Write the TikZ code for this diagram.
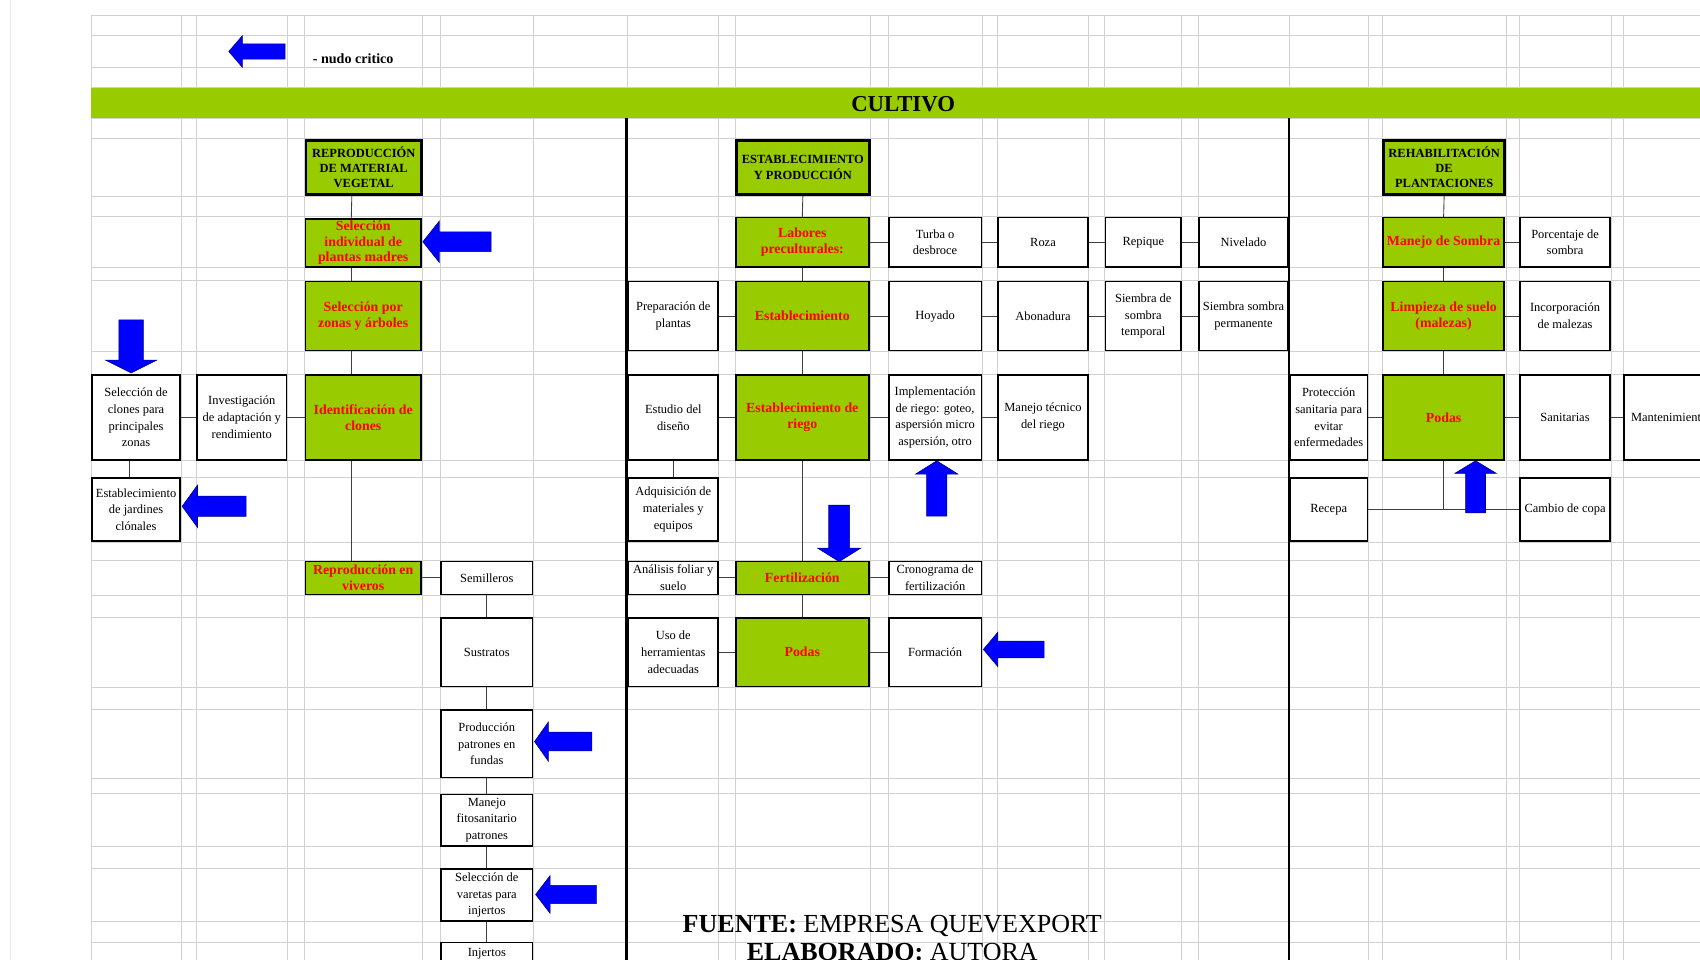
\documentclass[tikz,border=0pt]{standalone}
\usepackage{fontspec}
\setmainfont{Liberation Serif}

\definecolor{verde}{HTML}{99CC00}
\newcommand{\cajafont}{\fontsize{11.5}{15.5}\selectfont}
\newcommand{\clavefont}{\fontsize{12.8}{14.5}\selectfont\bfseries}
\newcommand{\titfont}{\fontsize{11.5}{14}\selectfont\bfseries}

\tikzset{
  caja/.style={draw, line width=1.5pt, fill=white, align=center, inner sep=1pt, font=\cajafont},
  clave/.style={caja, fill=verde, text=red, font=\clavefont},
  titulo/.style={caja, fill=verde, line width=2.6pt, font=\titfont},
  tam/.style 2 args={minimum width=#1, minimum height=#2},
  enlace/.style={draw=black!75, line width=0.8pt},
  grilla/.style={draw=black!18, line width=0.7pt},
  separa/.style={draw=black, line width=2.2pt},
  flecha/.style={fill=blue, draw=blue!45!black, line width=0.5pt},
  pics/nudo/.style 2 args={code={
    \filldraw[flecha] (0,0) -- (0.24*#1,0.5*#2) -- (0.24*#1,0.24*#2) -- (#1,0.24*#2)
      -- (#1,-0.24*#2) -- (0.24*#1,-0.24*#2) -- (0.24*#1,-0.5*#2) -- cycle;
  }}
}

\begin{document}
\begin{tikzpicture}[x=1pt, y=-1pt]
    \useasboundingbox (0,0) rectangle (1568,885);
    \clip (0,0) rectangle (1568,885);
    \fill[white] (0,0) rectangle (1568,885);

    % hoja de calculo
    \foreach \gy in {14,33,62,81,109,128,181,200,247,259,324,345,425,440,500,517,549,569,634,654,718,732,781,801,850,869}
      \draw[grilla] (84,\gy) -- (1568,\gy);
    \foreach \gx in {84,167,181,265,281,390,406,492,579,663,678,803,819,906,920,1004,1019,1090,1105,1189,1262,1275,1389,1401,1486,1497}
      \draw[grilla] (\gx,14) -- (\gx,885);
    \draw[grilla, draw=black!8] (10,0) -- (10,885);

    \fill[verde] (84,81) rectangle (1568,109);
    \node[font=\fontsize{21}{24}\selectfont\bfseries] (cultivo) at (833,96) {CULTIVO};
    \draw[separa] (578,109) -- (578,885);
    \draw[separa] (1189,109) -- (1189,885);

    \pic at (211,47.5) {nudo={52}{29}};
    \node[anchor=base west, font=\fontsize{13}{15}\selectfont\bfseries] (leyenda) at (285,59) {- nudo critico};

    % reproduccion de material vegetal
    \node[titulo, tam={106.4}{50.4}] (repro) at (335.5,154.5) {REPRODUCCIÓN\\DE MATERIAL\\VEGETAL};
    \node[clave, tam={106.5}{44.5}] (selind) at (335,224) {Selección\\individual de\\plantas madres};
    \node[clave, tam={106.5}{63.5}] (selzon) at (335,291.5) {Selección por\\zonas y árboles};
    \node[clave, tam={106.5}{78.5}] (ident) at (335,385) {Identificación de\\clones};
    \node[caja, tam={82.5}{78.5}] (invest) at (223,385) {Investigación\\de adaptación y\\rendimiento};
    \node[caja, tam={81.5}{78.5}] (selclon) at (125.5,385) {Selección de\\clones para\\principales\\zonas};
    \node[caja, tam={81.5}{58.5}] (jardin) at (125.5,470) {Establecimiento\\de jardines\\clónales};
    \node[clave, tam={106.5}{30.5}] (viveros) at (335,533) {Reproducción en\\viveros};
    \node[caja, tam={84.5}{30.5}] (semill) at (449,533) {Semilleros};
    \node[caja, tam={84.5}{63.5}] (sustr) at (449,601.5) {Sustratos};
    \node[caja, tam={84.5}{62.5}] (patron) at (449,686) {Producción\\patrones en\\fundas};
    \node[caja, tam={84.5}{47.5}] (fitos) at (449,756.5) {Manejo\\fitosanitario\\patrones};
    \node[caja, tam={84.5}{47.5}] (vareta) at (449,825.5) {Selección de\\varetas para\\injertos};
    \node[caja, tam={84.5}{21.5}] (injerto) at (449,880) {Injertos};

    % establecimiento y produccion
    \node[titulo, tam={122.4}{50.4}] (estab) at (740.5,154.5) {ESTABLECIMIENTO\\Y PRODUCCIÓN};
    \node[clave, tam={122.5}{45.5}] (labores) at (740,223.5) {Labores\\preculturales:};
    \node[caja, tam={85.5}{45.5}] (turba) at (862.5,223.5) {Turba o\\desbroce};
    \node[caja, tam={82.5}{45.5}] (roza) at (962,223.5) {Roza};
    \node[caja, tam={69.5}{45.5}] (repique) at (1054.5,223.5) {Repique};
    \node[caja, tam={82.5}{45.5}] (nivel) at (1147,223.5) {Nivelado};
    \node[caja, tam={82.5}{63.5}] (prepar) at (621,291.5) {Preparación de\\plantas};
    \node[clave, tam={122.5}{63.5}] (establ) at (740,291.5) {Establecimiento};
    \node[caja, tam={85.5}{63.5}] (hoyado) at (862.5,291.5) {Hoyado};
    \node[caja, tam={82.5}{63.5}] (abon) at (962,291.5) {Abonadura};
    \node[caja, tam={69.5}{63.5}] (stemp) at (1054.5,291.5) {Siembra de\\sombra\\temporal};
    \node[caja, tam={82.5}{63.5}] (sperm) at (1147,291.5) {Siembra sombra\\permanente};
    \node[caja, tam={82.5}{78.5}] (estudio) at (621,385) {Estudio del\\diseño};
    \node[clave, tam={122.5}{78.5}] (riego) at (740,385) {Establecimiento de\\riego};
    \node[caja, tam={85.5}{78.5}] (implem) at (862.5,385) {Implementación\\de riego: goteo,\\aspersión micro\\aspersión, otro};
    \node[caja, tam={82.5}{78.5}] (mtec) at (962,385) {Manejo técnico\\del riego};
    \node[caja, tam={82.5}{58.5}] (adquis) at (621,470) {Adquisición de\\materiales y\\equipos};
    \node[caja, tam={82.5}{30.5}] (analis) at (621,533) {Análisis foliar y\\suelo};
    \node[clave, tam={122.5}{30.5}] (fertil) at (740,533) {Fertilización};
    \node[caja, tam={85.5}{30.5}] (cronog) at (862.5,533) {Cronograma de\\fertilización};
    \node[caja, tam={82.5}{63.5}] (uso) at (621,601.5) {Uso de\\herramientas\\adecuadas};
    \node[clave, tam={122.5}{63.5}] (podas) at (740,601.5) {Podas};
    \node[caja, tam={85.5}{63.5}] (formac) at (862.5,601.5) {Formación};

    % rehabilitacion de plantaciones
    \node[titulo, tam={111.4}{50.4}] (rehab) at (1332,154.5) {REHABILITACIÓN\\DE\\PLANTACIONES};
    \node[clave, tam={111.5}{45.5}] (msombra) at (1331.5,223.5) {Manejo de Sombra};
    \node[caja, tam={83.5}{45.5}] (porcen) at (1443.5,223.5) {Porcentaje de\\sombra};
    \node[clave, tam={111.5}{63.5}] (limpia) at (1331.5,291.5) {Limpieza de suelo\\(malezas)};
    \node[caja, tam={83.5}{63.5}] (incorp) at (1443.5,291.5) {Incorporación\\de malezas};
    \node[caja, tam={71.5}{78.5}] (protec) at (1225.5,385) {Protección\\sanitaria para\\evitar\\enfermedades};
    \node[clave, tam={111.5}{78.5}] (podasr) at (1331.5,385) {Podas};
    \node[caja, tam={83.5}{78.5}] (sanit) at (1443.5,385) {Sanitarias};
    \node[caja, tam={83.5}{78.5}] (manten) at (1539.5,385) {Mantenimiento};
    \node[caja, tam={71.5}{58.5}] (recepa) at (1225.5,470) {Recepa};
    \node[caja, tam={83.5}{58.5}] (cambio) at (1443.5,470) {Cambio de copa};

    % enlaces
    \foreach \a/\b in {repro/selind, selind/selzon, selzon/ident, ident/viveros}
      \draw[enlace] ([xshift=-11pt]\a.south) -- ([xshift=-11pt]\b.north);
    \foreach \a/\b in {semill/sustr, sustr/patron, patron/fitos, fitos/vareta, vareta/injerto,
                       estab/labores, labores/establ, establ/riego, riego/fertil, fertil/podas,
                       estudio/adquis, rehab/msombra, msombra/limpia, limpia/podasr}
      \draw[enlace] (\a.south) -- (\b.north);
    \draw[enlace] ([xshift=-6pt]selclon.south) -- ([xshift=-6pt]jardin.north);
    \foreach \a/\b in {selclon/invest, invest/ident, viveros/semill,
                       labores/turba, turba/roza, roza/repique, repique/nivel,
                       prepar/establ, establ/hoyado, hoyado/abon, abon/stemp, stemp/sperm,
                       estudio/riego, riego/implem, implem/mtec,
                       analis/fertil, fertil/cronog, uso/podas, podas/formac,
                       msombra/porcen, limpia/incorp, protec/podasr, podasr/sanit, sanit/manten}
      \draw[enlace] (\a.east) -- (\b.west);
    \draw[enlace] (podasr.south) -- (podasr.south |- recepa.east);
    \draw[enlace] (recepa.east) -- (cambio.west);

    % nudos criticos
    \pic at (390,223) {nudo={63}{38}};
    \pic[rotate=90] at (121,344) {nudo={49}{47}};
    \pic at (168,467) {nudo={59}{39}};
    \pic at (493,684) {nudo={53}{36}};
    \pic at (494,825) {nudo={56}{35}};
    \pic[rotate=-90] at (864,425) {nudo={51}{39}};
    \pic[rotate=90] at (774,518) {nudo={52}{40}};
    \pic at (907,599) {nudo={56}{32}};
    \pic[rotate=-90] at (1361,425) {nudo={48}{38}};

    \node[anchor=base, font=\fontsize{24}{28}\selectfont] (fuente) at (823,860) {\textbf{FUENTE:} EMPRESA QUEVEXPORT};
    \node[anchor=base, font=\fontsize{24}{28}\selectfont] (elab) at (823,886) {\textbf{ELABORADO:} AUTORA};
\end{tikzpicture}
\end{document}
